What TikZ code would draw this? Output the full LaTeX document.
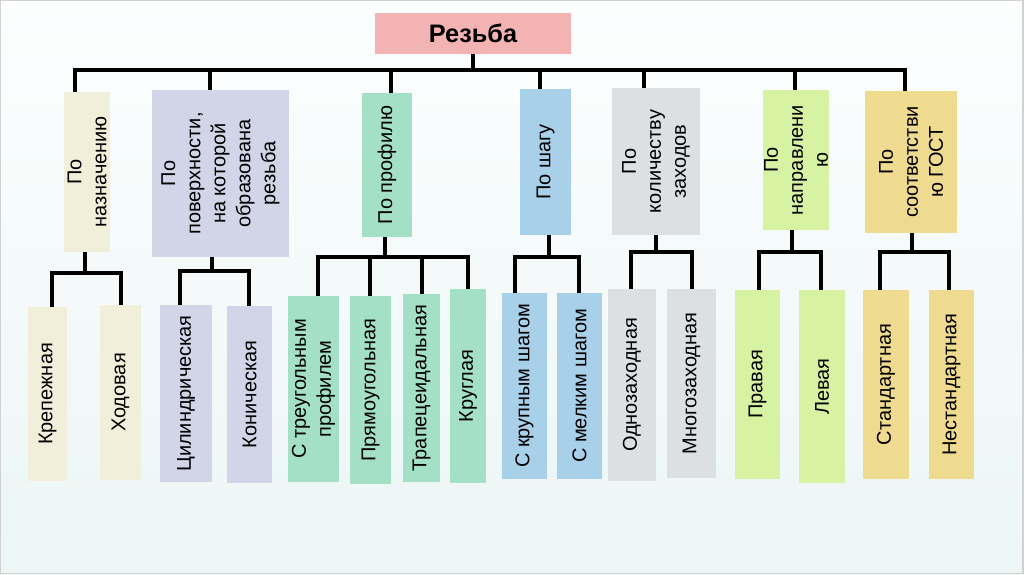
\documentclass[tikz,border=0pt]{standalone}
\usepackage{fontspec}
\setmainfont{Liberation Sans}
\usepackage{xcolor}

\definecolor{rootpink}{HTML}{F4B3B3}
\definecolor{cream}{HTML}{F1EFDA}
\definecolor{lavender}{HTML}{D2D4E8}
\definecolor{mint}{HTML}{A3E0C6}
\definecolor{skyblue}{HTML}{A8D0E8}
\definecolor{ash}{HTML}{DCE0E2}
\definecolor{lime}{HTML}{D6F2A2}
\definecolor{sand}{HTML}{EFDB90}
\definecolor{bgtop}{HTML}{FCFEFE}
\definecolor{bgmid}{HTML}{DCEEED}
\definecolor{bgbot}{HTML}{EBF6F5}

\tikzset{
  every node/.style={font=\fontsize{14.2}{17.8}\selectfont},
  box/.style={rectangle, inner sep=0pt, align=center, rotate=90},
  sz/.style 2 args={minimum width=#2*0.025cm, minimum height=#1*0.025cm},
  link/.style={line width=2.3pt, black, line join=miter},
}

\begin{document}
\begin{tikzpicture}[x=0.025cm, y=-0.025cm]
    \useasboundingbox (0,0) rectangle (1024,574);
    \shade[top color=bgtop, middle color=bgmid, bottom color=bgbot] (0,0) rectangle (1024,574);
    \draw[gray!35, line width=0.8pt] (0.5,0.5) rectangle (1023,573.5);

    \node[rectangle, fill=rootpink, minimum width=196*0.025cm, minimum height=41*0.025cm,
          font=\fontsize{18}{21}\selectfont\bfseries] (root) at (473,33.5) {Резьба};

    % boxes are turned: .east is the top side, .west the bottom side
    \node[box, sz={46}{160}, fill=cream] (p1) at (87,172) {По\\назначению};
    \node[box, sz={137}{167}, fill=lavender] (p2) at (220.5,173.5) {По\\поверхности,\\на которой\\образована\\резьба};
    \node[box, sz={50}{144}, fill=mint] (p3) at (387,165) {По профилю};
    \node[box, sz={51}{146}, fill=skyblue] (p4) at (545.5,162) {По шагу};
    \node[box, sz={88}{147}, fill=ash] (p5) at (656,161.5) {По\\количеству\\заходов};
    \node[box, sz={66}{140}, fill=lime] (p6) at (796,160) {По\\направлени\\ю};
    \node[box, sz={92}{142}, fill=sand] (p7) at (911,162) {По\\соответстви\\ю ГОСТ};

    \node[box, sz={39}{174}, fill=cream] (a1) at (47.5,394) {Крепежная};
    \node[box, sz={41}{175}, fill=cream] (a2) at (120.5,392.5) {Ходовая};
    \node[box, sz={52}{177}, fill=lavender] (b1) at (186,393.5) {Цилиндрическая};
    \node[box, sz={45}{177}, fill=lavender] (b2) at (249.5,394.5) {Коническая};
    \node[box, sz={51}{186}, fill=mint] (c1) at (313.5,389) {С треугольным\\профилем};
    \node[box, sz={41}{188}, fill=mint] (c2) at (370.5,390) {Прямоугольная};
    \node[box, sz={37}{188}, fill=mint] (c3) at (421.5,388) {Трапецеидальная};
    \node[box, sz={36}{194}, fill=mint] (c4) at (468,386) {Круглая};
    \node[box, sz={45}{186}, fill=skyblue] (d1) at (524.5,386) {С крупным шагом};
    \node[box, sz={45}{186}, fill=skyblue] (d2) at (579.5,386) {С мелким шагом};
    \node[box, sz={48}{192}, fill=ash] (e1) at (632,385) {Однозаходная};
    \node[box, sz={49}{189}, fill=ash] (e2) at (691.5,383.5) {Многозаходная};
    \node[box, sz={45}{189}, fill=lime] (f1) at (757.5,384.5) {Правая};
    \node[box, sz={46}{193}, fill=lime] (f2) at (822,386.5) {Левая};
    \node[box, sz={46}{189}, fill=sand] (g1) at (886,384.5) {Стандартная};
    \node[box, sz={45}{189}, fill=sand] (g2) at (951.5,384.5) {Нестандартная};

    % top level
    \foreach \x/\n in {75/p1,210/p2,391/p3,540/p4,644/p5,795/p6,905/p7}{
        \coordinate (s\n) at (\x,70);
    }
    \draw[link] (root.south) -- (root.south |- sp1);
    \draw[link] (p1.east -| sp1) -- (sp1) -- (sp7) -- (p7.east -| sp7);
    \foreach \n in {p2,p3,p4,p5,p6}{
        \draw[link] (s\n) -- (s\n |- \n.east);
    }

    % second level
    \coordinate (ja) at (85,273);
    \coordinate (ja1) at (52,273);
    \coordinate (ja2) at (121,273);
    \draw[link] (p1.west -| ja) -- (ja);
    \draw[link] (a1.east -| ja1) -- (ja1) -- (ja2) -- (a2.east -| ja2);

    \coordinate (jb) at (212,271);
    \coordinate (jb1) at (180,271);
    \coordinate (jb2) at (249,271);
    \draw[link] (p2.west -| jb) -- (jb);
    \draw[link] (b1.east -| jb1) -- (jb1) -- (jb2) -- (b2.east -| jb2);

    \coordinate (jc) at (385,257);
    \coordinate (jc1) at (318,257);
    \coordinate (jc2) at (370,257);
    \coordinate (jc3) at (422,257);
    \coordinate (jc4) at (468,257);
    \draw[link] (p3.west -| jc) -- (jc);
    \draw[link] (c1.east -| jc1) -- (jc1) -- (jc4) -- (c4.east -| jc4);
    \draw[link] (jc2) -- (c2.east -| jc2);
    \draw[link] (jc3) -- (c3.east -| jc3);

    \coordinate (jd) at (549,257);
    \coordinate (jd1) at (515,257);
    \coordinate (jd2) at (579,257);
    \draw[link] (p4.west -| jd) -- (jd);
    \draw[link] (d1.east -| jd1) -- (jd1) -- (jd2) -- (d2.east -| jd2);

    \coordinate (je) at (656,252);
    \coordinate (je1) at (631,252);
    \coordinate (je2) at (692,252);
    \draw[link] (p5.west -| je) -- (je);
    \draw[link] (e1.east -| je1) -- (je1) -- (je2) -- (e2.east -| je2);

    \coordinate (jf) at (792,252);
    \coordinate (jf1) at (759,252);
    \coordinate (jf2) at (821,252);
    \draw[link] (p6.west -| jf) -- (jf);
    \draw[link] (f1.east -| jf1) -- (jf1) -- (jf2) -- (f2.east -| jf2);

    \coordinate (jg) at (912,252);
    \coordinate (jg1) at (880,252);
    \coordinate (jg2) at (949,252);
    \draw[link] (p7.west -| jg) -- (jg);
    \draw[link] (g1.east -| jg1) -- (jg1) -- (jg2) -- (g2.east -| jg2);
\end{tikzpicture}
\end{document}
